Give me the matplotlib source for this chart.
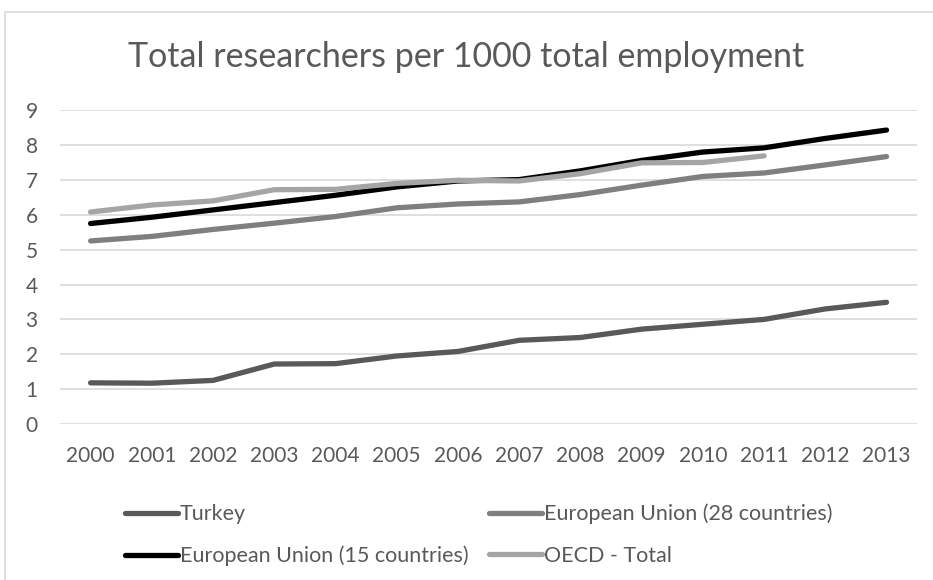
import numpy as np
import matplotlib
matplotlib.use("Agg")
import matplotlib.pyplot as plt
from matplotlib.patches import Rectangle

plt.rcParams['font.family'] = ['Lato', 'DejaVu Sans']

years = ['2000', '2001', '2002', '2003', '2004', '2005', '2006',
         '2007', '2008', '2009', '2010', '2011', '2012', '2013']
turkey = [1.18, 1.17, 1.25, 1.72, 1.73, 1.95, 2.08, 2.40, 2.48, 2.72, 2.86, 3.00, 3.30, 3.49]
eu28   = [5.25, 5.38, 5.58, 5.76, 5.95, 6.20, 6.31, 6.37, 6.58, 6.85, 7.10, 7.20, 7.43, 7.67]
eu15   = [5.75, 5.93, 6.14, 6.35, 6.56, 6.80, 6.97, 7.01, 7.26, 7.56, 7.80, 7.92, 8.19, 8.43]
oecd   = [6.08, 6.28, 6.40, 6.72, 6.73, 6.90, 6.99, 6.97, 7.18, 7.49, 7.50, 7.69]

TXT = '#595959'
GRID = '#d9d9d9'

fig = plt.figure(figsize=(9.33, 5.8), dpi=100)
ax = fig.add_axes([0.0643, 0.269, 0.9187, 0.541])

x = np.arange(len(years))
lw = 3.8
l_tr, = ax.plot(x, turkey, color='#595959', lw=lw, solid_capstyle='round', label='Turkey')
l_28, = ax.plot(x, eu28, color='#7f7f7f', lw=lw, solid_capstyle='round', label='European Union (28 countries)')
l_15, = ax.plot(x, eu15, color='#000000', lw=lw, solid_capstyle='round', label='European Union (15 countries)')
l_oe, = ax.plot(x[:len(oecd)], oecd, color='#a5a5a5', lw=lw, solid_capstyle='round', label='OECD - Total')

ax.set_xlim(-0.5, len(years) - 0.5)
ax.set_ylim(0, 9)
ax.set_yticks(range(0, 10))
ax.set_xticks(x)
ax.set_xticklabels(years)
ax.grid(axis='y', color=GRID, lw=1.2)
ax.set_axisbelow(True)
for s in ax.spines.values():
    s.set_visible(False)
ax.tick_params(length=0, labelsize=15, colors=TXT)
ax.tick_params(axis='y', pad=16)
ax.tick_params(axis='x', pad=16)

fig.text(0.5, 0.902, 'Total researchers per 1000 total employment',
         ha='center', va='center', fontsize=24.5, color=TXT)

# order so rows read Turkey / EU28, EU15 / OECD
leg = ax.legend([l_tr, l_15, l_28, l_oe],
                ['Turkey', 'European Union (15 countries)',
                 'European Union (28 countries)', 'OECD - Total'],
                ncol=2, loc='upper left', bbox_to_anchor=(0.076, -0.254),
                frameon=False, fontsize=15.5, handlelength=2.45,
                handletextpad=0.1, columnspacing=0.95, labelspacing=1.0,
                labelcolor=TXT, borderpad=0, borderaxespad=0)

# chart border (left + top visible)
fig.patches.append(Rectangle((5 / 933, -0.1), 1.2, 0.1 + (580 - 12) / 580,
                             transform=fig.transFigure, fill=False,
                             edgecolor=GRID, lw=1.2))

fig.savefig('out.png', dpi=100)
